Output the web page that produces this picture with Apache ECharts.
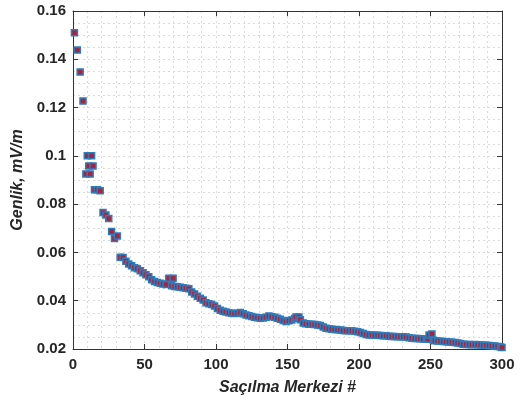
<!DOCTYPE html>
<html>
<head>
<meta charset="utf-8">
<script src="https://cdn.jsdelivr.net/npm/echarts@6/dist/echarts.min.js"></script>
<style>html,body{margin:0;padding:0;background:#fff}#c{width:522px;height:402px}</style>
</head>
<body>
<div id="c"></div>
<script>
const xIdx = [1,3,5,7,9,10,11,12,13,14,15,17,19,21,23,25,27,29,31,
33,35,37,39,41,43,45,47,49,51,53,55,57,59,61,63,65,67,69,70,71,73,75,77,79,81,83,85,87,89,91,93,95,97,99,
101,103,105,107,109,111,113,115,117,119,121,123,125,127,129,131,133,135,137,139,141,143,145,147,149,
151,153,155,156,158,159,161,163,165,167,169,171,173,175,177,179,181,183,185,187,189,191,193,195,197,199,
201,203,205,207,209,211,213,215,217,219,221,223,225,227,229,231,233,235,237,239,241,243,245,247,248,249,
251,252,253,255,257,259,261,263,265,267,269,271,273,275,277,279,281,283,285,287,289,291,293,295,297,299,300];
const amp = [0.151,0.1438,0.1347,0.1227,0.0925,0.1,0.0958,0.0925,0.1,0.0958,0.086,0.086,0.0855,0.0765,0.0755,0.0741,0.0687,0.0658,0.0668,
0.058,0.0579,0.0563,0.0552,0.0545,0.0537,0.0532,0.0524,0.0516,0.0508,0.0499,0.0487,0.048,0.0475,0.0472,0.0469,0.0467,0.0493,0.0462,0.0493,0.0459,0.0458,0.0456,0.0454,0.0452,0.045,0.0436,0.0428,0.0418,0.041,0.0403,0.0392,0.0387,0.0384,0.0378,
0.0368,0.0361,0.0356,0.0353,0.035,0.0348,0.0347,0.0348,0.0351,0.0346,0.0341,0.0338,0.0335,0.0332,0.0329,0.0327,0.0328,0.0331,0.0337,0.0334,0.0331,0.0327,0.0323,0.0318,0.0314,
0.0317,0.032,0.0326,0.0333,0.0333,0.0321,0.0308,0.0305,0.0303,0.0302,0.0301,0.0299,0.0297,0.0291,0.0286,0.0284,0.0282,0.0281,0.028,0.0279,0.0277,0.0276,0.0276,0.0276,0.0274,0.0271,
0.0268,0.0264,0.026,0.0258,0.0258,0.0257,0.0257,0.0256,0.0255,0.0255,0.0253,0.0252,0.0252,0.0251,0.0251,0.0251,0.025,0.0247,0.0245,0.0244,0.0243,0.0242,0.0241,0.024,0.024,0.0258,
0.0262,0.0236,0.0234,0.0233,0.0232,0.0231,0.023,0.0229,0.0228,0.0227,0.0225,0.0223,0.022,0.0219,0.0219,0.0218,0.0219,0.0218,0.0217,0.0216,0.0216,0.0214,0.0213,0.0212,0.021,0.0208,0.0206];
const xTitle = 'Saçılma Merkezi #';
const yTitle = 'Genlik, mV/m';

const data = xIdx.map((x, i) => [x, amp[i]]);
const font = 'Liberation Sans, Arial, sans-serif';
const gridStyle = {show: true, lineStyle: {color: '#dadada', type: [2, 3], width: 1}};
const chart = echarts.init(document.getElementById('c'), null, {renderer: 'canvas'});
const baseX = {
  type: 'value', min: 0, max: 300, interval: 50,
  axisLine: {show: true, onZero: false, lineStyle: {color: '#333', width: 1}},
  axisTick: {show: true, inside: true, length: 5, lineStyle: {color: '#333'}},
  minorTick: {show: false, splitNumber: 5},
};
const baseY = {
  type: 'value', min: 0.02, max: 0.16, interval: 0.02,
  axisLine: {show: true, onZero: false, lineStyle: {color: '#333', width: 1}},
  axisTick: {show: true, inside: true, length: 5, lineStyle: {color: '#333'}},
  minorTick: {show: false, splitNumber: 4},
};
chart.setOption({
  animation: false,
  backgroundColor: '#fff',
  grid: {left: 73, right: 20, top: 11, bottom: 53, containLabel: false},
  xAxis: [
    Object.assign({}, baseX, {
      position: 'bottom',
      name: xTitle, nameLocation: 'middle', nameGap: 31,
      nameTextStyle: {fontFamily: font, fontSize: 16, fontWeight: 'bold', fontStyle: 'italic', color: '#262626'},
      axisLabel: {margin: 8, fontFamily: font, fontSize: 15, fontWeight: 'bold', color: '#262626'},
      splitLine: gridStyle, minorSplitLine: gridStyle
    }),
    Object.assign({}, baseX, {
      position: 'top', axisLabel: {show: false}, splitLine: {show: false}
    })
  ],
  yAxis: [
    Object.assign({}, baseY, {
      position: 'left',
      name: yTitle, nameLocation: 'middle', nameGap: 45,
      nameTextStyle: {fontFamily: font, fontSize: 16, fontWeight: 'bold', fontStyle: 'italic', color: '#262626'},
      axisLabel: {margin: 7, fontFamily: font, fontSize: 15, fontWeight: 'bold', color: '#262626'},
      splitLine: gridStyle, minorSplitLine: gridStyle
    }),
    Object.assign({}, baseY, {
      position: 'right', axisLabel: {show: false}, splitLine: {show: false}
    })
  ],
  series: [{
    type: 'scatter',
    xAxisIndex: 0, yAxisIndex: 0,
    data: data,
    symbol: 'rect',
    symbolSize: 6,
    itemStyle: {color: '#a8233e', borderColor: '#2d7cbc', borderWidth: 1.5, opacity: 1}
  }]
});
</script>
</body>
</html>
